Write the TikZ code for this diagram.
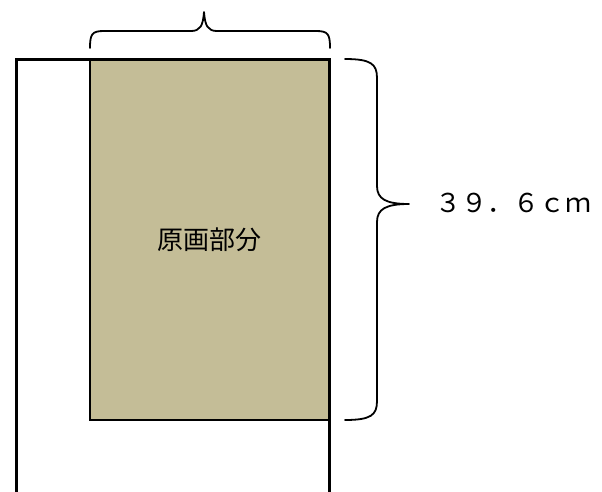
\documentclass[tikz,border=0pt]{standalone}
\usepackage{fontspec}
\newfontfamily\cjk{Noto Sans CJK JP}
\definecolor{tan}{HTML}{C4BD97}
\begin{document}
\begin{tikzpicture}[x=1pt,y=-1pt,
  frame/.style={line width=3pt,line cap=rect},
  panel/.style={draw=black,line width=1.3pt,fill=tan,inner sep=0pt,
    minimum width=239pt,minimum height=361pt,font=\cjk\fontsize{26}{30}\selectfont},
  bracestyle/.style={line width=1.8pt,line cap=round,line join=round},
  lbl/.style={font=\cjk\fontsize{26}{30}\selectfont,anchor=west,inner sep=0pt}]
\useasboundingbox (0,0) rectangle (602,491);
\node[panel] (orig) at (209.5,239.5) {原画部分};
\draw[frame] (16,493) -- (16,59) -- (329,59) -- (329,493);
% top brace
\draw[bracestyle] (90,48) .. controls (90,34) and (92,31) .. (104,31)
  -- (191,31) .. controls (200,31) and (203,26) .. (204,12)
  .. controls (205,26) and (208,31) .. (217,31)
  -- (316,31) .. controls (328,31) and (330,34) .. (330,48);
% right brace
\draw[bracestyle] (345,59) .. controls (371,59) and (377,64) .. (377,78)
  -- (377,186) .. controls (377,199) and (386,204) .. (409,204)
  .. controls (386,204) and (377,209) .. (377,222)
  -- (377,401) .. controls (377,415) and (371,420) .. (345,420);
\coordinate (tip) at (409,204);
\node[lbl] (len) at (435,203) {３９．６ｃｍ};
\end{tikzpicture}
\end{document}
